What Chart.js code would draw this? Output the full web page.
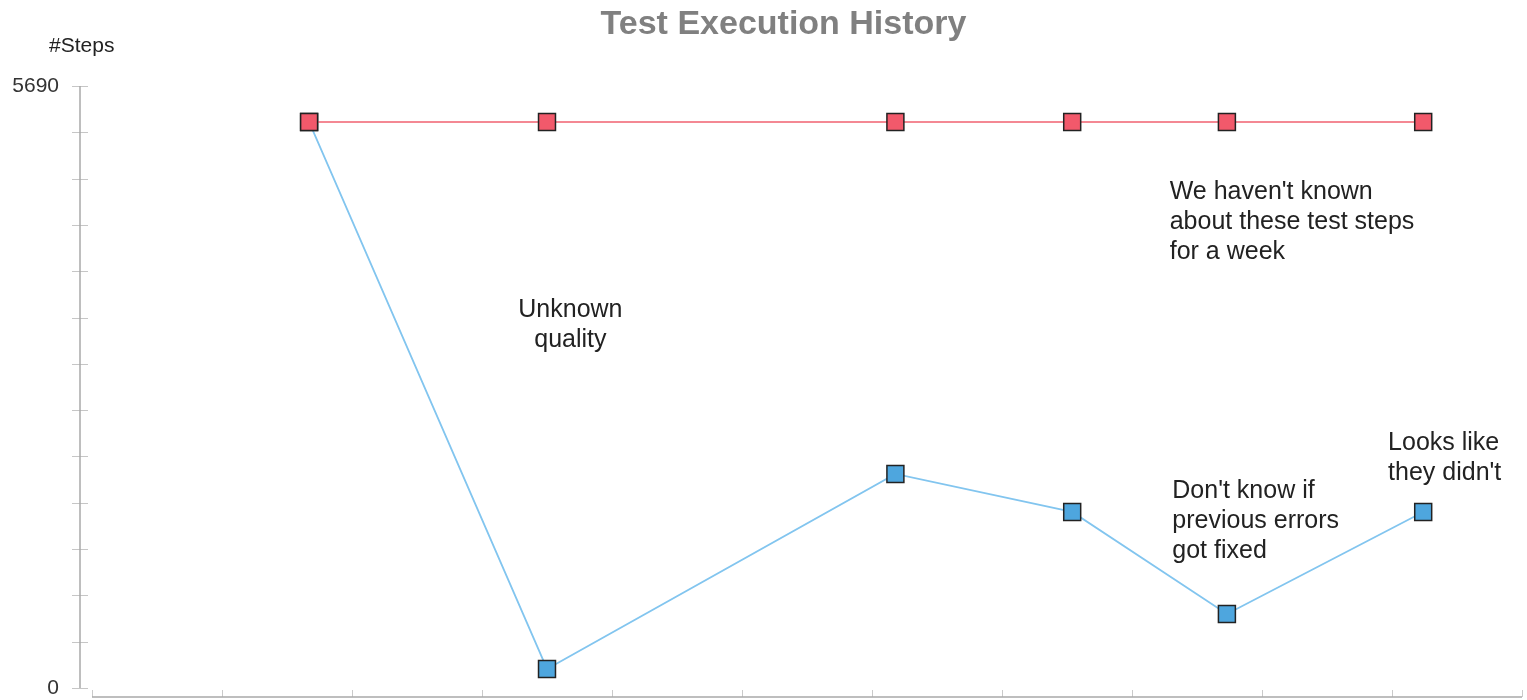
<!DOCTYPE html>
<html>
<head>
<meta charset="utf-8">
<script src="https://cdn.jsdelivr.net/npm/chart.js@4.4.1/dist/chart.umd.min.js"></script>
<style>
html, body { margin: 0; padding: 0; background: #fff; overflow: hidden; }
canvas { display: block; }
</style>
</head>
<body>
<canvas id="history" width="1527" height="700"></canvas>
<script>
// run positions on the time axis (one unit per tick)
const runTimes = [1.67, 3.5, 6.18, 7.54, 8.73, 10.24];
const totalSteps = [5350, 5350, 5350, 5350, 5350, 5350];
const executedSteps = [5350, 180, 2023, 1664, 699, 1664];
const yMax = 5690;
const yTickCount = 13;
const xMax = 11;

const noteLines = [
    ['Unknown', 'quality'],
    ["We haven't known", 'about these test steps', 'for a week'],
    ["Don't know if", 'previous errors', 'got fixed'],
    ['Looks like', "they didn't"]
];
const noteX = [3.68, 8.29, 8.31, 9.97];
const noteY = [3568, 4688, 1857, 2311];
const noteAlign = ['center', 'left', 'left', 'left'];

const FONT = "'Liberation Sans', Arial, sans-serif";

const toPoints = (xs, ys) => xs.map((x, i) => ({ x, y: ys[i] }));

const axisLines = {
    id: 'axisLines',
    beforeDatasetsDraw(chart) {
        const { ctx, chartArea, scales: { x, y } } = chart;
        const line = (x1, y1, x2, y2) => {
            ctx.beginPath();
            ctx.moveTo(x1, y1);
            ctx.lineTo(x2, y2);
            ctx.stroke();
        };
        ctx.save();
        const ax = chartArea.left - 12;
        ctx.strokeStyle = '#c6c6c6';
        ctx.lineWidth = 1;
        y.ticks.forEach(t => {
            const py = Math.round(y.getPixelForValue(t.value)) + 0.5;
            line(ax - 8, py, ax + 8, py);
        });
        ctx.strokeStyle = '#a8a8a8';
        ctx.lineWidth = 1.5;
        line(ax, y.getPixelForValue(yMax), ax, y.getPixelForValue(0));

        const by = chartArea.bottom + 9;
        ctx.strokeStyle = '#cacaca';
        ctx.lineWidth = 1;
        x.ticks.forEach(t => {
            const px = Math.round(x.getPixelForValue(t.value)) + 0.5;
            line(px, by - 7, px, by);
        });
        ctx.strokeStyle = '#a8a8a8';
        ctx.lineWidth = 1.5;
        line(chartArea.left, by, chartArea.right, by);
        ctx.restore();
    },
    afterDatasetsDraw(chart) {
        const { ctx, chartArea, scales: { x, y } } = chart;
        ctx.save();
        ctx.textBaseline = 'middle';

        // title, centred a little right of the canvas middle
        ctx.fillStyle = '#808080';
        ctx.textAlign = 'center';
        ctx.font = `bold 34px ${FONT}`;
        ctx.fillText('Test Execution History', (chart.width + 40) / 2, 25);

        ctx.fillStyle = '#222';
        ctx.font = `21px ${FONT}`;
        ctx.textAlign = 'left';
        ctx.fillText('#Steps', chartArea.left - 43, chartArea.top - 40);

        ctx.font = `25px ${FONT}`;
        noteLines.forEach((lines, i) => {
            ctx.textAlign = noteAlign[i];
            const px = x.getPixelForValue(noteX[i]);
            const py = y.getPixelForValue(noteY[i]);
            lines.forEach((txt, j) => ctx.fillText(txt, px, py + j * 30));
        });
        ctx.restore();
    }
};

new Chart(document.getElementById('history'), {
    type: 'line',
    data: {
        datasets: [{
            label: 'Total steps',
            data: toPoints(runTimes, totalSteps),
            borderColor: '#f0606f',
            borderWidth: 1.5,
            backgroundColor: '#f2596b',
            pointStyle: 'rect',
            pointRadius: 12,
            pointBorderColor: '#222',
            pointBorderWidth: 1.5,
            pointBackgroundColor: '#f2596b',
            tension: 0
        }, {
            label: 'Executed steps',
            data: toPoints(runTimes, executedSteps),
            borderColor: '#82c5ef',
            borderWidth: 1.8,
            backgroundColor: '#4ea6de',
            pointStyle: 'rect',
            pointRadius: 12,
            pointBorderColor: '#222',
            pointBorderWidth: 1.5,
            pointBackgroundColor: '#4ea6de',
            tension: 0
        }]
    },
    options: {
        responsive: false,
        animation: false,
        layout: { autoPadding: false, padding: { left: 0, right: 5, top: 86, bottom: 0 } },
        plugins: {
            legend: { display: false },
            tooltip: { enabled: false },
            title: { display: false }
        },
        scales: {
            x: {
                type: 'linear',
                min: 0,
                max: xMax,
                ticks: { display: false, stepSize: 1, padding: 0, callback: () => '' },
                grid: { display: false, drawTicks: false },
                border: { display: false },
                afterFit: s => { s.height = 12; }
            },
            y: {
                min: 0,
                max: yMax,
                afterBuildTicks: s => {
                    s.ticks = Array.from({ length: yTickCount + 1 }, (_, i) => ({ value: i * yMax / yTickCount }));
                },
                ticks: {
                    autoSkip: false,
                    padding: 0,
                    color: '#333',
                    font: { family: FONT, size: 21, lineHeight: 1 },
                    callback: (v, i, arr) => (i === 0 || i === arr.length - 1) ? Math.round(v) : ''
                },
                grid: { display: false, drawTicks: true, tickLength: 33 },
                border: { display: false },
                afterFit: s => { s.width = 92; }
            }
        }
    },
    plugins: [axisLines]
});
</script>
</body>
</html>
